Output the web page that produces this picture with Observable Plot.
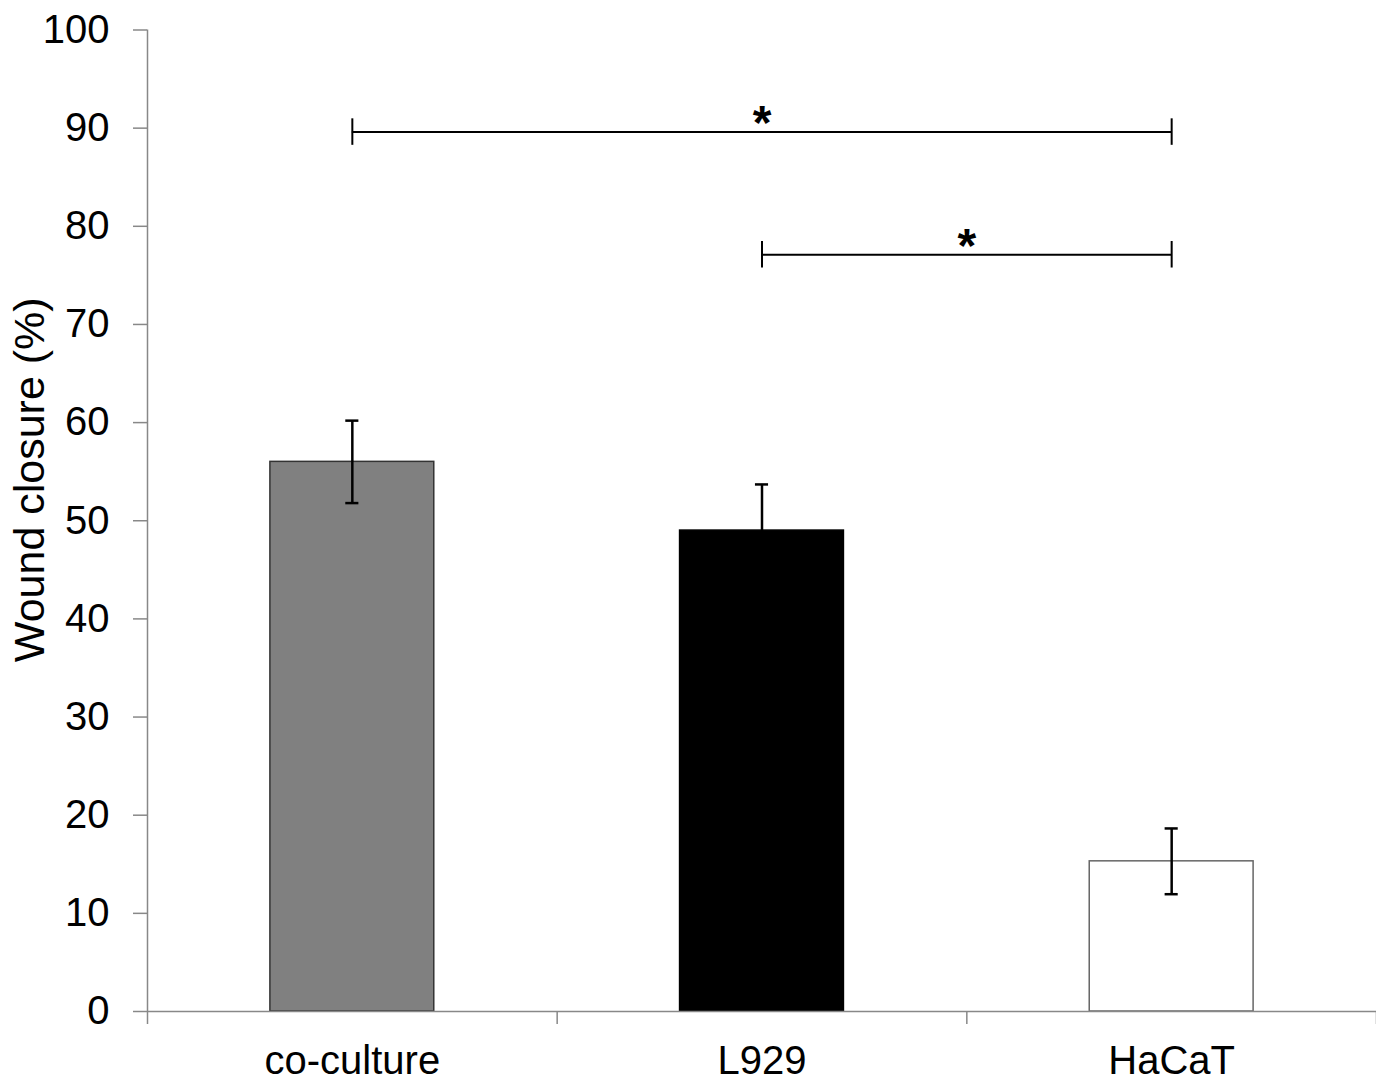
<!DOCTYPE html>
<html>
<head>
<meta charset="utf-8">
<script src="https://cdn.jsdelivr.net/npm/d3@7"></script>
<script src="https://cdn.jsdelivr.net/npm/@observablehq/plot@0.6"></script>
<style>
  html, body { margin: 0; padding: 0; background: #fff; }
  #chart svg { display: block; }
</style>
</head>
<body>
<div id="chart"></div>
<script>
// Data
const categories = ["co-culture", "L929", "HaCaT"];
const means = [56.0, 49.0, 15.3];
const errors = [4.2, 4.7, 3.35];
const fills = ["#808080", "#000000", "#ffffff"];
const strokes = ["#333333", "#000000", "#666666"];
const yTicks = [0, 10, 20, 30, 40, 50, 60, 70, 80, 90, 100];
const yLabel = "Wound closure (%)";
// significance brackets: from category, to category, level, label
const sigFrom = [0, 1];
const sigTo = [2, 2];
const sigLevel = [89.6, 77.1];
const sigLabel = ["*", "*"];

const barHalf = 0.2;     // bar half-width in category units
const capHalf = 0.016;   // error cap half-width
const bracketCap = 1.35; // bracket end half-height (y units)

const bars = categories.map((c, i) => ({
  cat: c, pos: i + 0.5, mean: means[i], err: errors[i], fill: fills[i], stroke: strokes[i]
}));
const sig = sigFrom.map((f, i) => ({
  x1: f + 0.5, x2: sigTo[i] + 0.5, y: sigLevel[i], label: sigLabel[i]
}));
const sigEnds = sig.flatMap(s => [{x: s.x1, y: s.y}, {x: s.x2, y: s.y}]);

const font = "'Liberation Sans', Arial, sans-serif";
const axisColor = "#888888";

const chart = Plot.plot({
  width: 1376,
  height: 1083,
  marginLeft: 147,
  marginRight: 0,
  marginTop: 29.5,
  marginBottom: 72,
  style: { fontFamily: font, fontSize: "40px", background: "#fff", color: "#000" },
  x: { domain: [0, 3], range: [147, 1376], axis: null },
  y: { domain: [0, 100], axis: null },
  marks: [
    // bars
    Plot.rectY(bars, {
      x1: d => d.pos - barHalf, x2: d => d.pos + barHalf, y1: 0, y2: "mean",
      fill: "fill", stroke: "stroke", strokeWidth: 1.5
    }),
    // y axis
    Plot.ruleX([0], { stroke: axisColor, strokeWidth: 1.5 }),
    Plot.axisY({
      ticks: yTicks, tickSize: 14, tickPadding: 24, stroke: axisColor, strokeWidth: 1.5,
      fontSize: 40, fill: "#000", label: null
    }),
    // x axis line + boundary ticks
    Plot.ruleY([0], { stroke: axisColor, strokeWidth: 1.5 }),
    Plot.axisX({
      ticks: [0, 1, 2, 3], tickSize: 13, tickFormat: () => "", stroke: axisColor, strokeWidth: 1.5, label: null
    }),
    Plot.axisX({
      ticks: bars.map(d => d.pos), tickSize: 0, tickPadding: 34,
      tickFormat: v => categories[Math.round(v - 0.5)], fontSize: 40, fill: "#000", label: null
    }),
    // error bars
    Plot.ruleX(bars, { x: "pos", y1: d => d.mean - d.err, y2: d => d.mean + d.err, stroke: "#000", strokeWidth: 2.5 }),
    Plot.ruleY(bars, { y: d => d.mean + d.err, x1: d => d.pos - capHalf, x2: d => d.pos + capHalf, stroke: "#000", strokeWidth: 2.5 }),
    Plot.ruleY(bars, { y: d => d.mean - d.err, x1: d => d.pos - capHalf, x2: d => d.pos + capHalf, stroke: "#000", strokeWidth: 2.5 }),
    // significance brackets
    Plot.ruleY(sig, { y: "y", x1: "x1", x2: "x2", stroke: "#000", strokeWidth: 2 }),
    Plot.ruleX(sigEnds, { x: "x", y1: d => d.y - bracketCap, y2: d => d.y + bracketCap, stroke: "#000", strokeWidth: 2 }),
    Plot.text(sig, {
      x: d => (d.x1 + d.x2) / 2, y: "y", text: "label", fontSize: 48, fontWeight: "bold",
      lineAnchor: "middle", dy: -8, fill: "#000"
    }),
    // y label
    Plot.text([yLabel], {
      frameAnchor: "left", textAnchor: "middle", rotate: -90, dx: -117, dy: -41, fontSize: 43, fill: "#000"
    })
  ]
});
document.getElementById("chart").appendChild(chart);
</script>
</body>
</html>
